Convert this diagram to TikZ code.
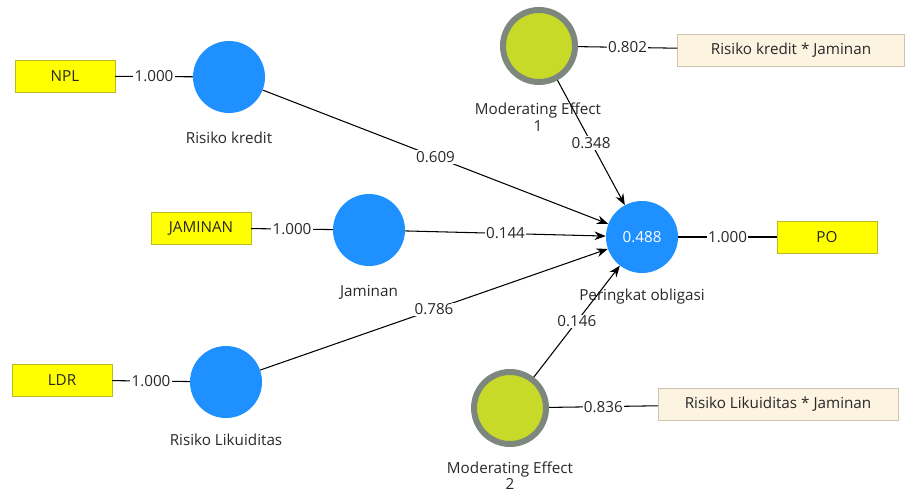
\documentclass[tikz,border=0pt]{standalone}
\usepackage{fontspec}
\setmainfont{Open Sans}
\usetikzlibrary{arrows.meta, positioning}

\definecolor{lvblue}{RGB}{30,144,255}
\definecolor{indyellow}{RGB}{255,255,0}
\definecolor{indborder}{RGB}{185,185,40}
\definecolor{modgreen}{RGB}{200,218,40}
\definecolor{modring}{RGB}{125,135,125}
\definecolor{intfill}{RGB}{252,243,225}
\definecolor{intborder}{RGB}{205,195,175}
\definecolor{txt}{RGB}{40,40,40}

\begin{document}
\begin{tikzpicture}[
    x=0.3mm, y=-0.3mm,
    >={Stealth[length=3.4mm, width=2.6mm]},
    font=\fontsize{13}{14}\selectfont,
    text=txt,
    latent/.style={circle, fill=lvblue, minimum size=21.6mm, inner sep=0pt},
    moderator/.style={circle, fill=modgreen, draw=modring, line width=1.8mm, minimum size=21.6mm, inner sep=0pt},
    indicator/.style={rectangle, fill=indyellow, draw=indborder, minimum width=30mm, minimum height=9.6mm},
    product/.style={rectangle, fill=intfill, draw=intborder, minimum height=9.6mm},
    weight/.style={fill=white, inner sep=1pt},
]
    \useasboundingbox (0,0) rectangle (906,493);

    % constructs
    \node[latent]             (RK)  at (229,77)  {};
    \node[latent]             (JM)  at (369,230) {};
    \node[latent]             (RL)  at (226,382) {};
    \node[latent, text=white] (PO)  at (642,237) {0.488};
    \node[moderator]          (ME1) at (539,46)  {};
    \node[moderator]          (ME2) at (510,408) {};

    \node (RKlabel) at (229,138) {Risiko kredit};
    \node (JMlabel) at (369,292) {Jaminan};
    \node (RLlabel) at (226,440) {Risiko Likuiditas};
    \node (POlabel) at (642,297) {Peringkat obligasi};
    \node[align=center] (ME1label) at (538,117) {Moderating Effect\\1};
    \node[align=center, font=\fontsize{13}{12.5}\selectfont] (ME2label) at (510,476) {Moderating Effect\\2};

    % indicators
    \node[indicator] (NPL)   at (65,76)   {NPL};
    \node[indicator] (JAM)   at (201,228) {JAMINAN};
    \node[indicator] (LDR)   at (62,380)  {LDR};
    \node[indicator] (POind) at (827,237) {PO};
    \node[product, minimum width=68.1mm] (RKxJ) at (791,50)  {Risiko kredit * Jaminan};
    \node[product, minimum width=72mm]   (RLxJ) at (778,404) {Risiko Likuiditas * Jaminan};

    \path[line width=0.9pt]
        (NPL)  edge node [weight] {1.000} (RK)
        (JAM)  edge node [weight] {1.000} (JM)
        (LDR)  edge node [weight] {1.000} (RL)
        (PO)   edge node [weight] {1.000} (POind)
        (ME1)  edge node [weight] {0.802} (RKxJ)
        (ME2)  edge node [weight] {0.836} (RLxJ)
    ;

    \path[->, line width=0.9pt]
        (RK)  edge node [weight] {0.609} (PO)
        (JM)  edge node [weight] {0.144} (PO)
        (RL)  edge node [weight] {0.786} (PO)
        (ME1) edge node [weight] {0.348} (PO)
        (ME2) edge node [weight] {0.146} (PO)
    ;
\end{tikzpicture}
\end{document}
